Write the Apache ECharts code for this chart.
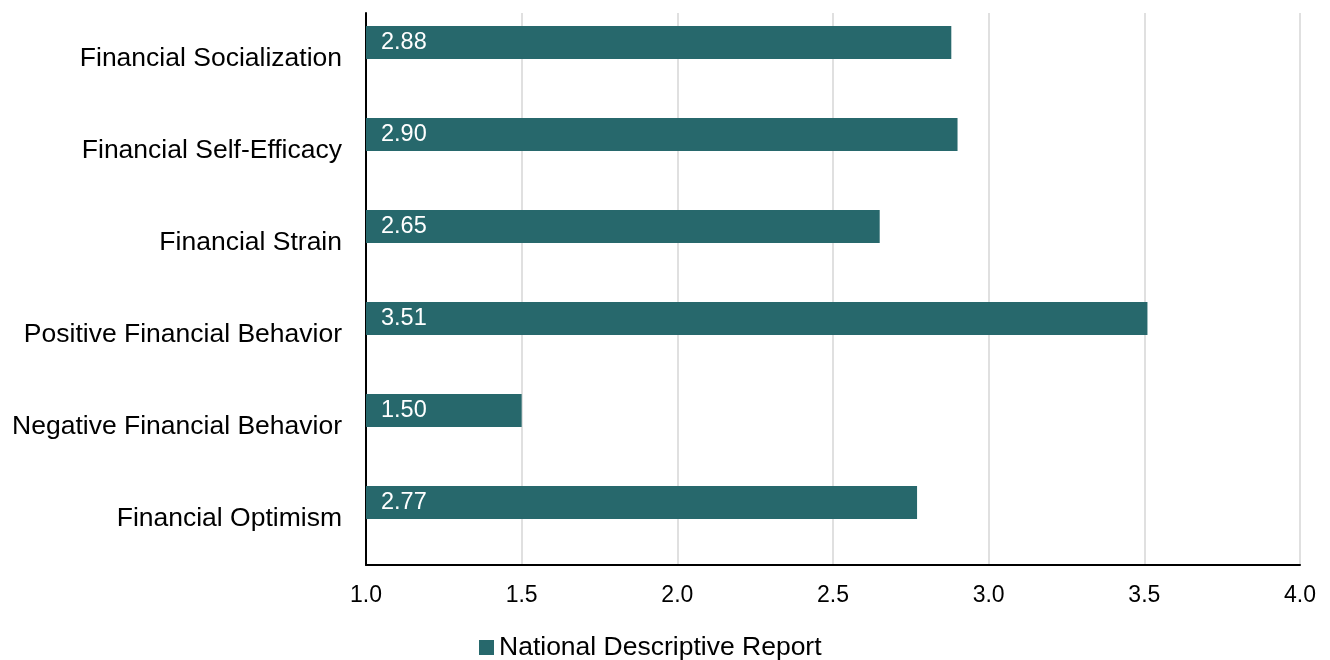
<!DOCTYPE html>
<html>
<head>
<meta charset="utf-8">
<script src="https://cdn.jsdelivr.net/npm/echarts@6/dist/echarts.min.js"></script>
<style>
  html, body { margin: 0; padding: 0; background: #fff; }
  #chart { width: 1330px; height: 660px; }
</style>
</head>
<body>
<div id="chart"></div>
<script>
// Mean scale scores by construct
const categories = [
  'Financial Socialization',
  'Financial Self-Efficacy',
  'Financial Strain',
  'Positive Financial Behavior',
  'Negative Financial Behavior',
  'Financial Optimism'
];
const nationalValues = [2.88, 2.90, 2.65, 3.51, 1.50, 2.77];
const xTicks = { min: 1.0, max: 4.0, interval: 0.5 };

const FONT = '"Liberation Sans", Arial, sans-serif';
const BAR = '#27686c';

const chart = echarts.init(document.getElementById('chart'), null, { renderer: 'canvas' });
chart.setOption({
  animation: false,
  textStyle: { fontFamily: FONT },
  grid: { left: 366, right: 30, top: 13, bottom: 95, containLabel: false },
  legend: {
    data: ['National Descriptive Report'],
    left: 474,
    top: 629,
    icon: 'rect',
    itemWidth: 15,
    itemHeight: 15,
    itemGap: 5,
    textStyle: { fontFamily: FONT, fontSize: 26.5, color: '#000' }
  },
  xAxis: {
    type: 'value',
    min: xTicks.min,
    max: xTicks.max,
    interval: xTicks.interval,
    axisLine: { show: true, lineStyle: { color: '#000', width: 2 } },
    axisTick: { show: false },
    splitLine: { show: true, lineStyle: { color: '#e0e0e0', width: 2 } },
    axisLabel: {
      color: '#000', fontSize: 23, fontFamily: FONT, margin: 19,
      formatter: v => v.toFixed(1)
    }
  },
  yAxis: {
    type: 'category',
    data: categories,
    inverse: true,
    axisLine: { show: true, lineStyle: { color: '#000', width: 2 } },
    axisTick: { show: false },
    splitLine: { show: false },
    axisLabel: { color: '#000', fontSize: 26.5, fontFamily: FONT, margin: 24 }
  },
  series: [
    {
      name: 'National Descriptive Report',
      type: 'bar',
      data: nationalValues,
      barWidth: 33,
      barGap: '0%',
      itemStyle: { color: BAR },
      label: {
        show: true,
        position: 'insideLeft',
        distance: 15,
        color: '#fff',
        fontSize: 23.5,
        fontFamily: FONT,
        formatter: p => p.value.toFixed(2)
      }
    },
    {
      // empty companion slot so each bar sits in the upper half of its band
      name: 'blank',
      type: 'bar',
      data: categories.map(() => '-'),
      barWidth: 33,
      barGap: '0%',
      itemStyle: { color: 'transparent' }
    }
  ]
});
</script>
</body>
</html>
